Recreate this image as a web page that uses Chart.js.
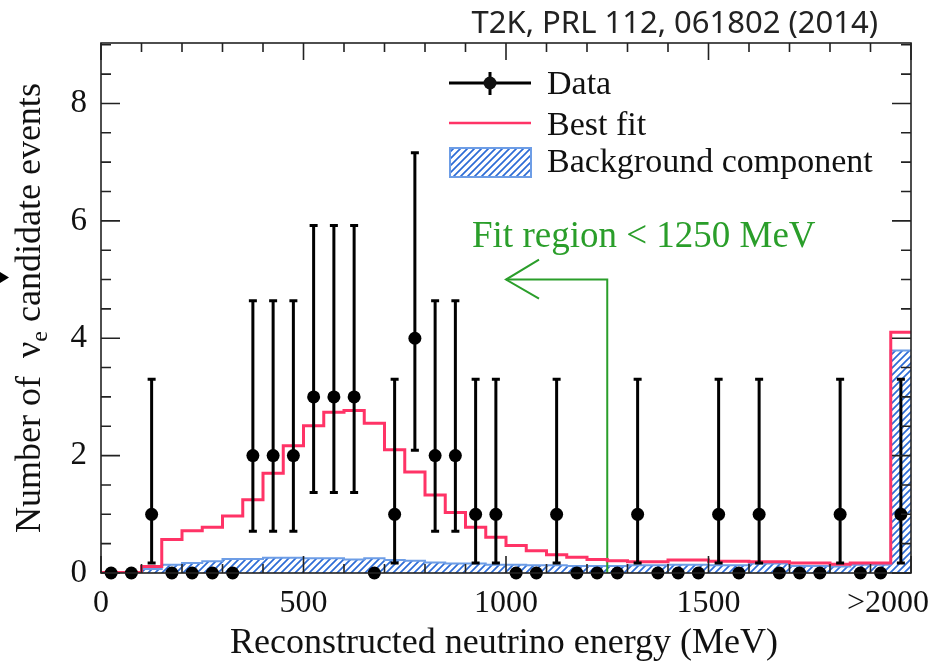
<!DOCTYPE html>
<html>
<head>
<meta charset="utf-8">
<script src="https://cdn.jsdelivr.net/npm/chart.js@4.4.1/dist/chart.umd.min.js"></script>
<style>
body { margin: 0; background: #fff; }
</style>
</head>
<body>
<canvas id="chart" width="936" height="665"></canvas>
<script>
// 50 MeV bins, the last one collects everything above 1950 MeV
const binWidth = 50
const binEdges = Array.from({ length: 41 }, (_, i) => i * binWidth)
const binCenters = binEdges.slice(0, 40).map(e => e + binWidth / 2)

const dataCounts = [0, 0, 1, 0, 0, 0, 0, 2, 2, 2, 3, 3, 3, 0, 1, 4, 2, 2, 1, 1,
    0, 0, 1, 0, 0, 0, 1, 0, 0, 0, 1, 0, 1, 0, 0, 0, 1, 0, 0, 1]
const bestFit = [0.01, 0.01, 0.11, 0.57, 0.72, 0.78, 0.97, 1.25, 1.70, 2.17, 2.51, 2.74, 2.77, 2.55, 2.10, 1.72, 1.33, 1.03, 0.78, 0.61,
    0.47, 0.38, 0.31, 0.27, 0.23, 0.21, 0.19, 0.19, 0.22, 0.22, 0.20, 0.20, 0.19, 0.19, 0.17, 0.17, 0.15, 0.17, 0.17, 4.10]
const backgroundFit = [0, 0, 0.07, 0.14, 0.17, 0.20, 0.24, 0.24, 0.26, 0.26, 0.25, 0.25, 0.23, 0.25, 0.22, 0.21, 0.18, 0.16, 0.16, 0.14,
    0.14, 0.13, 0.13, 0.12, 0.12, 0.12, 0.13, 0.13, 0.14, 0.14, 0.13, 0.13, 0.16, 0.16, 0.12, 0.12, 0.11, 0.14, 0.14, 3.79]
// 68% Poisson intervals, indexed by the observed count
const poissonLow = [0, 0.17, 0.71, 1.37, 2.09]
const poissonHigh = [1.84, 3.30, 4.64, 5.92, 7.16]

const xTickValues = [0, 500, 1000, 1500, 1943]
const xTickLabels = ['0', '500', '1000', '1500', '>2000']
const yTickValues = [0, 2, 4, 6, 8]

const fitCut = 1250
const arrowEnd = 1000
const arrowLevel = 5

const serif = '"Liberation Serif", "Times New Roman", serif'
const red = '#ff3366'
const green = '#2a9e2a'
const blue = '#6d9de6'

let canvas = document.getElementById('chart')
let hatch = makeHatch(canvas.getContext('2d'))

function makeHatch(ctx) {
    let c = document.createElement('canvas')
    c.width = 7
    c.height = 7
    let g = c.getContext('2d')
    g.fillStyle = '#fff'
    g.fillRect(0, 0, 7, 7)
    g.strokeStyle = '#2d6cd6'
    g.lineWidth = 1.7
    g.beginPath()
    g.moveTo(-2, 9); g.lineTo(9, -2)
    g.moveTo(-2, 2); g.lineTo(2, -2)
    g.moveTo(5, 9); g.lineTo(9, 5)
    g.stroke()
    return ctx.createPattern(c, 'repeat')
}

function stepPoints(values) {
    let pts = values.map((v, i) => ({ x: binEdges[i], y: v }))
    pts.push({ x: binEdges[40], y: values[values.length - 1] })
    return pts
}

// error bars, axis frame, legend, titles
const decorations = {
    id: 'decorations',
    afterDatasetsDraw(chart) {
        let ctx = chart.ctx, x = chart.scales.x, y = chart.scales.y
        ctx.save()
        ctx.strokeStyle = '#000'
        ctx.lineWidth = 3
        dataCounts.forEach((n, i) => {
            if (n == 0) return
            let px = x.getPixelForValue(binCenters[i])
            let lo = y.getPixelForValue(poissonLow[n])
            let hi = y.getPixelForValue(poissonHigh[n])
            ctx.beginPath()
            ctx.moveTo(px, lo); ctx.lineTo(px, hi)
            ctx.moveTo(px - 4, lo); ctx.lineTo(px + 4, lo)
            ctx.moveTo(px - 4, hi); ctx.lineTo(px + 4, hi)
            ctx.stroke()
        })

        // arrow head of the fit region marker
        let tx = x.getPixelForValue(arrowEnd), ty = y.getPixelForValue(arrowLevel)
        ctx.strokeStyle = green
        ctx.lineWidth = 2
        ctx.beginPath()
        ctx.moveTo(tx + 33, ty - 20); ctx.lineTo(tx, ty); ctx.lineTo(tx + 33, ty + 19)
        ctx.stroke()
        ctx.restore()
    },
    afterDraw(chart) {
        let ctx = chart.ctx, x = chart.scales.x, y = chart.scales.y
        let a = chart.chartArea
        ctx.save()

        // frame and inward ticks
        ctx.strokeStyle = '#222'
        ctx.lineWidth = 1.6
        ctx.strokeRect(a.left, a.top, a.right - a.left, a.bottom - a.top)
        ctx.beginPath()
        for (let v = 0; v <= 2000; v += 100) {
            let px = x.getPixelForValue(v)
            let len = v % 500 == 0 ? 17 : 9
            ctx.moveTo(px, a.bottom); ctx.lineTo(px, a.bottom - len)
            ctx.moveTo(px, a.top); ctx.lineTo(px, a.top + len)
        }
        for (let v = 0; v <= 9; v += 0.5) {
            let py = y.getPixelForValue(v)
            let len = v % 2 == 0 ? 19 : 10
            ctx.moveTo(a.left, py); ctx.lineTo(a.left + len, py)
            ctx.moveTo(a.right, py); ctx.lineTo(a.right - len, py)
        }
        ctx.stroke()

        // legend
        let ds = chart.data.datasets
        ctx.font = '34px ' + serif
        ctx.fillStyle = '#111'
        ctx.textAlign = 'left'
        ctx.textBaseline = 'alphabetic'
        ctx.strokeStyle = '#000'
        ctx.lineWidth = 3
        ctx.beginPath()
        ctx.moveTo(449, 83); ctx.lineTo(531, 83)
        ctx.moveTo(490, 72); ctx.lineTo(490, 95)
        ctx.stroke()
        ctx.beginPath()
        ctx.arc(490, 83, 6.5, 0, Math.PI * 2)
        ctx.fill()
        ctx.fillText(ds[0].label, 547, 94)

        ctx.strokeStyle = red
        ctx.lineWidth = 2.5
        ctx.beginPath()
        ctx.moveTo(449, 123); ctx.lineTo(531, 123)
        ctx.stroke()
        ctx.fillText(ds[1].label, 547, 135)

        ctx.fillStyle = hatch
        ctx.fillRect(450, 148, 81, 29)
        ctx.strokeStyle = blue
        ctx.lineWidth = 2
        ctx.strokeRect(450, 148, 81, 29)
        ctx.fillStyle = '#111'
        ctx.fillText(ds[2].label, 547, 172)

        // fit region label
        ctx.fillStyle = green
        ctx.font = '37px ' + serif
        ctx.fillText('Fit region < 1250 MeV', 472, 247)

        // axis titles
        ctx.fillStyle = '#111'
        ctx.font = '36px ' + serif
        ctx.textAlign = 'center'
        ctx.fillText('Reconstructed neutrino energy (MeV)', (a.left + a.right) / 2 - 2, 653)

        ctx.save()
        ctx.translate(40, (a.top + a.bottom) / 2)
        ctx.rotate(-Math.PI / 2)
        ctx.textAlign = 'left'
        let big = '36px ' + serif, small = '24px ' + serif
        let p1 = 'Number of  \u03bd', p2 = 'e', p3 = ' candidate events'
        ctx.font = big
        let w1 = ctx.measureText(p1).width, w3 = ctx.measureText(p3).width
        ctx.font = small
        let w2 = ctx.measureText(p2).width
        let sx = -(w1 + w2 + w3) / 2
        ctx.font = big
        ctx.fillText(p1, sx, 0)
        ctx.font = small
        ctx.fillText(p2, sx + w1, 7)
        ctx.font = big
        ctx.fillText(p3, sx + w1 + w2, 0)
        ctx.restore()

        // small marker at the left edge
        ctx.fillStyle = '#000'
        ctx.beginPath()
        ctx.moveTo(0, 272); ctx.lineTo(9, 277.5); ctx.lineTo(0, 283)
        ctx.closePath()
        ctx.fill()

        // reference label
        ctx.fillStyle = '#222'
        ctx.font = '31px "Noto Sans", "Open Sans", sans-serif'
        ctx.textAlign = 'right'
        ctx.fillText('T2K, PRL 112, 061802 (2014)', 878, 33)
        ctx.restore()
    }
}

let chart = new Chart(canvas, {
    type: 'line',
    data: {
        datasets: [
            {
                label: 'Data',
                data: binCenters.map((c, i) => ({ x: c, y: dataCounts[i] })),
                showLine: false,
                pointRadius: 6.5,
                pointHoverRadius: 6.5,
                pointBackgroundColor: '#000',
                pointBorderWidth: 0,
                clip: false,
                order: 0
            },
            {
                label: 'Best fit',
                data: stepPoints(bestFit),
                stepped: 'before',
                borderColor: red,
                borderWidth: 3,
                pointRadius: 0,
                fill: false,
                order: 1
            },
            {
                label: 'Background component',
                data: stepPoints(backgroundFit),
                stepped: 'before',
                borderColor: blue,
                borderWidth: 2,
                backgroundColor: hatch,
                pointRadius: 0,
                fill: 'origin',
                order: 3
            },
            {
                label: 'Fit region',
                data: [{ x: arrowEnd, y: arrowLevel }, { x: fitCut, y: arrowLevel }, { x: fitCut, y: 0 }],
                borderColor: green,
                borderWidth: 2,
                pointRadius: 0,
                fill: false,
                order: 2
            }
        ]
    },
    options: {
        responsive: false,
        animation: false,
        devicePixelRatio: 1,
        events: [],
        layout: { padding: { left: 0, top: 43, right: 25, bottom: 0 } },
        plugins: { legend: { display: false }, tooltip: { enabled: false } },
        font: { family: serif },
        scales: {
            x: {
                type: 'linear',
                min: 0,
                max: 2000,
                afterBuildTicks: s => { s.ticks = xTickValues.map(v => ({ value: v })) },
                afterFit: s => { s.height = 92; s.paddingLeft = 0; s.paddingRight = 0 },
                ticks: {
                    font: { family: serif, size: 32 },
                    color: '#111',
                    padding: 11,
                    maxRotation: 0,
                    autoSkip: false,
                    callback: (v, i) => xTickLabels[i]
                },
                grid: { display: false, drawTicks: false },
                border: { display: false }
            },
            y: {
                type: 'linear',
                min: 0,
                max: 9.03,
                afterBuildTicks: s => { s.ticks = yTickValues.map(v => ({ value: v })) },
                afterFit: s => { s.width = 101; s.paddingTop = 0; s.paddingBottom = 0 },
                ticks: {
                    font: { family: serif, size: 33 },
                    color: '#111',
                    padding: 14
                },
                grid: { display: false, drawTicks: false },
                border: { display: false }
            }
        }
    },
    plugins: [decorations]
})
</script>
</body>
</html>
